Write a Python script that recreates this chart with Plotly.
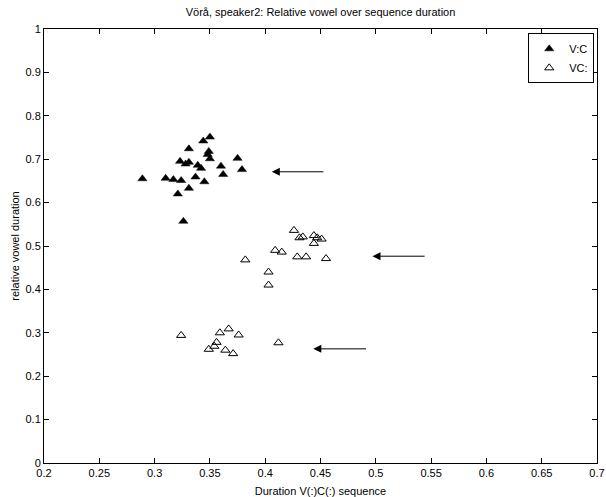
import plotly.graph_objects as go

# V:C (filled triangles)
vc_long_vowel_x = [0.350, 0.344, 0.331, 0.349, 0.348, 0.350, 0.375, 0.323, 0.331, 0.328,
                   0.339, 0.342, 0.360, 0.379, 0.362, 0.310, 0.337, 0.317, 0.324, 0.345,
                   0.331, 0.321, 0.326, 0.289]
vc_long_vowel_y = [0.751, 0.742, 0.724, 0.718, 0.711, 0.701, 0.702, 0.695, 0.693, 0.689,
                   0.686, 0.679, 0.684, 0.676, 0.665, 0.656, 0.659, 0.653, 0.651, 0.648,
                   0.633, 0.620, 0.557, 0.655]

# VC: (open triangles)
vc_long_cons_x = [0.426, 0.431, 0.434, 0.444, 0.447, 0.451, 0.444, 0.409, 0.415, 0.429,
                  0.437, 0.455, 0.382, 0.403, 0.403,
                  0.324, 0.359, 0.367, 0.376, 0.356, 0.354, 0.349, 0.364, 0.371, 0.412]
vc_long_cons_y = [0.536, 0.519, 0.521, 0.524, 0.519, 0.516, 0.506, 0.490, 0.486, 0.475,
                  0.475, 0.471, 0.468, 0.440, 0.410,
                  0.294, 0.300, 0.309, 0.295, 0.278, 0.269, 0.262, 0.260, 0.252, 0.277]

# Arrows: tail x, head x, y
arrow_tail_x = [0.454, 0.5455, 0.4925]
arrow_head_x = [0.406, 0.497, 0.4435]
arrow_y = [0.671, 0.4765, 0.263]

x_ticks = [0.2, 0.25, 0.3, 0.35, 0.4, 0.45, 0.5, 0.55, 0.6, 0.65, 0.7]
x_tick_labels = ["0.2", "0.25", "0.3", "0.35", "0.4", "0.45", "0.5", "0.55", "0.6", "0.65", "0.7"]
y_ticks = [0, 0.1, 0.2, 0.3, 0.4, 0.5, 0.6, 0.7, 0.8, 0.9, 1]
y_tick_labels = ["0", "0.1", "0.2", "0.3", "0.4", "0.5", "0.6", "0.7", "0.8", "0.9", "1"]

FONT = "Liberation Sans, Arial, Helvetica, sans-serif"

fig = go.Figure()
fig.add_trace(go.Scatter(
    x=vc_long_vowel_x, y=vc_long_vowel_y, mode="markers", name="V:C",
    marker=dict(symbol="triangle-up", size=8, color="black", line=dict(width=0.5, color="black")),
))
fig.add_trace(go.Scatter(
    x=vc_long_cons_x, y=vc_long_cons_y, mode="markers", name="VC:",
    marker=dict(symbol="triangle-up-open", size=8, color="black", line=dict(width=1, color="black")),
))

for tx, hx, ay in zip(arrow_tail_x, arrow_head_x, arrow_y):
    fig.add_annotation(
        x=hx, y=ay, ax=tx, ay=ay, xref="x", yref="y", axref="x", ayref="y",
        showarrow=True, arrowhead=2, arrowsize=1.6, arrowwidth=1, arrowcolor="black", text="",
    )

axis_common = dict(
    showgrid=False, zeroline=False, showline=True, linecolor="black", linewidth=1,
    mirror="ticks", ticks="inside", ticklen=5, tickcolor="black", automargin=False,
    tickfont=dict(family=FONT, size=11, color="black"),
)

fig.update_layout(
    width=606, height=497,
    margin=dict(l=44, r=9, t=29, b=34),
    paper_bgcolor="white", plot_bgcolor="white",
    font=dict(family=FONT, size=11, color="black"),
    title=dict(text="Vörå, speaker2: Relative vowel over sequence duration",
               x=0.5, xref="paper", xanchor="center", y=1 - 12 / 497, yref="container", yanchor="middle",
               font=dict(family=FONT, size=11, color="black")),
    xaxis=dict(range=[0.2, 0.7], tickvals=x_ticks, ticktext=x_tick_labels,
               title=dict(text="Duration V(:)C(:) sequence", standoff=10, font=dict(family=FONT, size=11)),
               **axis_common),
    yaxis=dict(range=[0, 1], tickvals=y_ticks, ticktext=y_tick_labels,
               title=dict(text="relative vowel duration", standoff=3, font=dict(family=FONT, size=11)),
               **axis_common),
    showlegend=True,
    legend=dict(x=0.995, y=0.99, xanchor="right", yanchor="top", bgcolor="white",
                bordercolor="black", borderwidth=1, font=dict(family=FONT, size=11),
                itemwidth=30, tracegroupgap=0),
)

fig.write_html("out.html", config={"displayModeBar": False},
               post_script="document.body.style.margin='0px';")
